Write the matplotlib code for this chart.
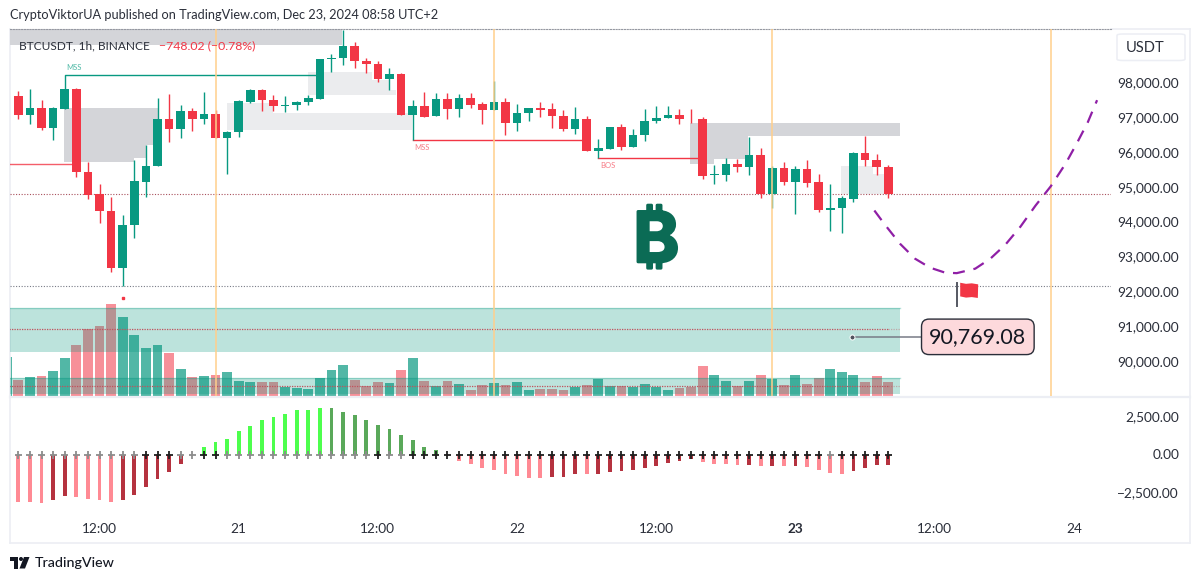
import numpy as np
import matplotlib
matplotlib.use('Agg')
import matplotlib.pyplot as plt
import matplotlib.patheffects as pe
from matplotlib.patches import Rectangle, FancyBboxPatch, Polygon
from matplotlib.lines import Line2D

plt.rcParams['font.family'] = ['Lato', 'Noto Sans', 'DejaVu Sans']

# hourly candles, 20 Dec 05:00 to 23 Dec 08:00
opens = [97626, 97079, 97301, 96725, 97260, 97827, 95447, 94805, 94336, 92696, 93922, 95159, 95611, 96984, 96696, 97203,
         96973, 97116, 96426, 96590, 97453, 97799, 97519, 97338, 97375, 97462, 97548, 98682, 98711, 99056, 98642, 98555,
         98106, 98259, 97099, 97338, 97050, 97531, 97260, 97577, 97396, 97232, 97445, 96857, 97137, 97280, 97252, 97059,
         96696, 96984, 96043, 96121, 96734, 96178, 96503, 96906, 97001, 97088, 96984, 96973, 95361, 95361, 95689, 95582,
         95948, 94826, 95562, 95171, 95534, 95159, 94354, 94411, 94682, 96006, 95804, 95591]
highs = [97770, 97827, 97511, 97309, 97827, 97856, 95735, 95113, 94719, 94230, 95784, 96216, 97588, 97692, 97367, 97301,
         97750, 97223, 96619, 97511, 97827, 97819, 97663, 97617, 97482, 97655, 98691, 98835, 99525, 99189, 98720, 98642,
         98423, 98279, 97511, 97750, 97721, 97721, 97692, 97721, 97445, 98049, 97588, 97396, 97301, 97445, 97416, 97232,
         97309, 97070, 96408, 96742, 96840, 96676, 97252, 97338, 97338, 97272, 97252, 97030, 95640, 95862, 95833, 96446,
         96138, 95611, 95726, 95620, 95804, 95401, 95102, 94768, 96023, 96495, 95957, 95640]
lows = [96964, 96829, 96656, 96360, 97260, 95303, 94682, 94000, 92569, 92186, 93559, 94728, 95611, 96311, 96426, 96619,
        96829, 96426, 95401, 96455, 97424, 97203, 97203, 97165, 97223, 97367, 97548, 98325, 98518, 98423, 98296, 98037,
        97799, 97099, 96380, 97042, 97050, 96964, 97042, 97289, 96829, 97232, 96524, 96639, 96906, 97042, 96714, 96619,
        96552, 96043, 95850, 96121, 96072, 96178, 96339, 96857, 96993, 96840, 96857, 95257, 95113, 95188, 95447, 95352,
        94710, 94411, 95064, 94250, 95016, 94316, 93749, 93692, 94584, 95620, 95352, 94710]
closes = [97079, 97301, 96714, 97280, 97819, 95447, 94797, 94325, 92696, 93933, 95180, 95620, 96984, 96696, 97203, 96973,
          97116, 96426, 96590, 97482, 97799, 97511, 97338, 97387, 97473, 97588, 98691, 98720, 99056, 98633, 98547, 98106,
          98259, 97099, 97338, 97042, 97531, 97260, 97577, 97375, 97232, 97445, 96857, 97145, 97280, 97243, 97050, 96696,
          96984, 96043, 96138, 96734, 96178, 96512, 96926, 97013, 97088, 96973, 96964, 95332, 95390, 95689, 95582, 95948,
          94826, 95562, 95171, 95534, 95142, 94345, 94423, 94690, 96006, 95793, 95582, 94814]

# volume, first value is the bar cut off at the left edge
volume = [39, 16.3, 19, 20, 24.7, 38, 50.7, 66.7, 69.7, 92, 78.7, 60.7, 47.7, 51.3, 42.7, 26.7, 19, 20, 21, 23.7, 15.3,
          13.7, 14.3, 14.3, 8.7, 8.3, 7.3, 18, 26.3, 31, 15.7, 10.3, 14.3, 13.3, 26.3, 37.7, 15, 10.3, 15, 12.3, 6.3,
          11.3, 13.3, 11.3, 14.3, 6.3, 7.3, 7.3, 6.3, 9.3, 11.3, 17, 9.7, 9.7, 8.7, 12.3, 8.7, 6.3, 7.7, 8.7, 30.3,
          21.3, 15, 9.7, 15, 20.7, 17.3, 11.3, 20.7, 12.3, 18, 27.3, 24.3, 21.3, 14.3, 19.7, 14.3]

# squeeze momentum histogram
momentum = [-3115, -3115, -3180, -2983, -2676, -2742, -2873, -2939, -3115, -2983, -2610, -2105, -1557, -1119, -570, 30,
            548, 855, 1053, 1557, 1908, 2303, 2478, 2720, 2983, 2983, 3093, 3093, 2851, 2610, 2303, 1974, 1733, 1294,
            987, 548, 307, 0, -373, -614, -833, -1009, -1228, -1382, -1492, -1492, -1448, -1448, -1228, -1228, -1228,
            -1119, -1053, -987, -877, -746, -548, -373, -263, -439, -570, -570, -636, -636, -746, -746, -746, -746,
            -812, -987, -1185, -1228, -1053, -877, -680, -680]
mom_shade = ['l', 'l', 'l', 'd', 'd', 'l', 'l', 'l', 'l', 'd', 'd', 'd', 'd', 'd', 'd', 'L', 'L', 'L', 'L', 'L', 'L',
             'L', 'L', 'L', 'L', 'L', 'L', 'D', 'D', 'D', 'D', 'D', 'D', 'D', 'D', 'D', 'D', 'D', 'l', 'l', 'l', 'l',
             'l', 'l', 'l', 'l', 'd', 'd', 'd', 'l', 'd', 'd', 'd', 'd', 'd', 'd', 'd', 'd', 'd', 'l', 'l', 'l', 'l',
             'd', 'l', 'd', 'l', 'd', 'l', 'l', 'l', 'l', 'd', 'd', 'd', 'd']
squeeze_off = [0, 1, 2, 3, 4, 5, 6, 7, 8, 9, 10, 14, 15, 18, 19, 20, 21, 22, 23, 24, 25, 26, 27, 28, 29, 30, 32, 33, 70]

# forecast path drawn on the chart
path_t = [73.8, 74.7, 76, 77.3, 78.6, 79.9, 80.9, 82.5, 83.8, 85.1, 86.4, 87.7, 89, 90.3, 91.3, 92.2, 93]
path_p = [94345, 93942, 93395, 92963, 92704, 92561, 92547, 92676, 92963, 93366, 93884, 94489, 95036, 95698, 96302,
          96878, 97511]

# zones as start, end, low, high
dark_zones = [(-0.8, 27.9, 99094, 99560), (3.9, 12, 96216, 97280), (3.9, 11, 95841, 96216), (3.9, 10, 95735, 95841),
              (57.9, 76, 96475, 96857), (57.9, 62.9, 95833, 96475), (57.9, 60, 95669, 95833)]
light_zones = [(18, 33.9, 96647, 97145), (18, 22, 97145, 97424), (25, 30.5, 97646, 98325), (30.5, 32, 97646, 98086),
               (32, 32.6, 97646, 97799), (70.9, 73.7, 94826, 95620), (73.7, 74.7, 94826, 95381)]
teal_bands = [(89070, 89530, 89317), (90287, 91545, 90935)]
session_lines = [17, 41, 65, 89]

price_ticks = [90000, 91000, 92000, 93000, 94000, 95000, 96000, 97000, 98000]
mom_ticks = [-2500, 0, 2500]
time_ticks = [7, 19, 31, 43, 55, 67, 79, 91]
time_labels = ['12:00', '21', '12:00', '22', '12:00', '23', '12:00', '24']

GREEN = '#089981'
RED = '#f23645'
TEXT = '#2a2e39'
BORDER = '#eceef4'
W, H = 1200, 581


def pane(x0, y0, x1, y1):
    return fig.add_axes([x0 / W, 1 - y1 / H, (x1 - x0) / W, (y1 - y0) / H])


def fx(x):
    return x / W


def fy(y):
    return 1 - y / H


fig = plt.figure(figsize=(12, 5.81), dpi=100)
ax_vol = pane(10, 29, 1111, 396)
ax = pane(10, 29, 1111, 396)
ax_mom = pane(10, 397, 1111, 515)
ax.set_zorder(2)
ax.patch.set_visible(False)

t = np.arange(len(opens))
xlim = (-0.716, 94.2)

# volume goes behind everything else
vol_t = np.arange(len(volume)) - 1
vol_col = [GREEN] + [GREEN if c >= o else RED for o, c in zip(opens, closes)]
vol_alpha = [0.7 if c == GREEN else 0.55 for c in vol_col]
ax_vol.bar(vol_t, volume, width=0.86, color=[matplotlib.colors.to_rgba(c, a) for c, a in zip(vol_col, vol_alpha)])
ax_vol.set_xlim(xlim)
ax_vol.set_ylim(0, 366.7)
ax_vol.axis('off')

for x0, x1, lo, hi in dark_zones:
    ax.add_patch(Rectangle((x0, lo), x1 - x0, hi - lo, color='#d4d5d9', lw=0, zorder=1))
for x0, x1, lo, hi in light_zones:
    ax.add_patch(Rectangle((x0, lo), x1 - x0, hi - lo, color='#ebecee', lw=0, zorder=1))
for lo, hi, mid in teal_bands:
    ax.add_patch(Rectangle((-0.8, lo), 76.8, hi - lo, color=GREEN, alpha=0.27, lw=0, zorder=1.5))
    ax.plot([-0.8, 76], [hi, hi], color=GREEN, alpha=0.3, lw=1, zorder=1.5)
    ax.plot([-0.8, 75], [mid, mid], color='#c2505c', lw=0.9, ls=(0, (1, 1)), zorder=1.6)
    ax.plot([75, 76], [mid, mid], color='#c2505c', alpha=0.4, lw=0.9, ls=(0, (1, 1)), zorder=1.6)

# candles
col = [GREEN if c >= o else RED for o, c in zip(opens, closes)]
ax.vlines(t, lows, highs, colors=col, lw=1, zorder=3)
body_lo = np.minimum(opens, closes)
body_hi = np.maximum(opens, closes)
ax.bar(t, body_hi - body_lo, bottom=body_lo, width=0.74, color=col, zorder=3.1)

# structure lines
ax.plot([4, 4, 26], [97819, 98230, 98230], color=GREEN, lw=1, zorder=2.5)
ax.plot([-0.8, 5], [95669, 95669], color=RED, alpha=0.8, lw=1, zorder=2.5)
ax.plot([34, 49], [96380, 96380], color=RED, lw=1, zorder=2.5)
ax.plot([50, 59], [95850, 95850], color=RED, lw=1, zorder=2.5)
ax.text(4.8, 98460, 'MSS', color='#4fb9a6', fontsize=5.5, ha='center', va='center')
ax.text(34.8, 96158, 'MSS', color='#f77c87', fontsize=5.5, ha='center', va='center')
ax.text(50.8, 95640, 'BOS', color='#f77c87', fontsize=5.5, ha='center', va='center')

# price and level lines
ax.axhline(closes[-1], color='#a9505c', lw=0.8, ls=(0, (1, 1.5)), zorder=2)
ax.axhline(lows[9], color='#787b86', lw=0.8, ls=(0, (1, 1.5)), zorder=2)
ax.plot([9], [91832], marker='s', ms=2, color=RED, zorder=3)

for s in session_lines:
    ax.axvline(s, color='#ffcf8c', alpha=0.85, lw=1.3, zorder=4)

ax.plot(path_t, path_p, color='#8f1fa6', lw=1.6, ls=(0, (5.4, 4)), zorder=4)

# bitcoin sign, thickened a bit with a stroke
ax.text(55, 93400, '\u20bf', color='#0b6b55', fontsize=50, fontweight='bold',
        family=['Inter', 'Noto Sans', 'Roboto', 'Open Sans', 'Lato'], ha='center', va='center', zorder=3,
        path_effects=[pe.withStroke(linewidth=2, foreground='#0b6b55')])

# flag
ax.plot([80.95, 80.95], [91602, 92253], color='#555862', lw=1.4, zorder=4)
ax.add_patch(Polygon([(81.2, 92272), (81.7, 92240), (82.2, 92255), (82.75, 92225), (82.72, 91835), (82.2, 91860),
                      (81.7, 91845), (81.2, 91880)], closed=True, color=RED, lw=0, zorder=4))

# callout with the target price
ax.plot([71.9, 79.5], [90719, 90719], color='#787b86', lw=1.1, zorder=4)
ax.plot([71.9], [90719], marker='o', ms=3.6, mfc='#50535e', mec='white', mew=0.7, zorder=5)
ax.annotate('90,769.08', xy=(82.72, 90719), ha='center', va='center', fontsize=15.5, color='#131722', zorder=6,
            bbox=dict(boxstyle='round,pad=0.36,rounding_size=0.35', fc='#fdd9dc', ec='#2a2e39', lw=1))

ax.set_xlim(xlim)
ax.set_ylim(89021, 99554)
ax.set_xticks([])
ax.yaxis.tick_right()
ax.set_yticks(price_ticks)
ax.set_yticklabels([f'{p:,.2f}' for p in price_ticks])
ax.tick_params(axis='y', length=0, pad=49, labelsize=9.8, labelcolor=TEXT)
for lab in ax.get_yticklabels():
    lab.set_ha('right')
    lab.set_va('center')
for name in ['left', 'right', 'bottom']:
    ax.spines[name].set_visible(False)
ax.spines['top'].set_color('#9598a1')
ax.spines['top'].set_linewidth(0.8)
ax.spines['top'].set_linestyle((0, (1, 1.5)))

# lower pane
shades = {'l': '#ff8a94', 'd': '#b5323f', 'L': '#4dff4d', 'D': '#5aa95a'}
ax_mom.bar(t, momentum, width=0.33, color=[shades[s] for s in mom_shade])
squeeze_col = ['#8c8c8c' if i in squeeze_off else '#1f1f1f' for i in t]
ax_mom.scatter(t, np.zeros(len(t)), marker='+', s=26, c=squeeze_col, linewidths=1.3, zorder=3)
ax_mom.set_xlim(xlim)
ax_mom.set_ylim(-3947, 3816)
ax_mom.yaxis.tick_right()
ax_mom.set_yticks(mom_ticks)
ax_mom.set_yticklabels(['\u22122,500.00', '0.00', '2,500.00'])
ax_mom.tick_params(axis='y', length=0, pad=49, labelsize=9.8, labelcolor=TEXT)
for lab in ax_mom.get_yticklabels():
    lab.set_ha('right')
    lab.set_va('center')
ax_mom.set_xticks(time_ticks)
ax_mom.set_xticklabels(time_labels)
ax_mom.tick_params(axis='x', length=0, pad=6, labelsize=9.8, labelcolor=TEXT)
for lab in ax_mom.get_xticklabels():
    if lab.get_text() == '23':
        lab.set_fontweight('bold')
for s in ax_mom.spines.values():
    s.set_visible(False)

# pane frame
for (x0, y0, x1, y1, lw) in [(10, 29, 10, 543, 1.2), (1190, 29, 1190, 543, 1.2), (1111, 29, 1190, 29, 1.2),
                             (10, 396.5, 1190, 396.5, 1.6), (10, 543, 1190, 543, 1.2)]:
    fig.add_artist(Line2D([fx(x0), fx(x1)], [fy(y0), fy(y1)], color=BORDER, lw=lw))

# header texts
fig.text(fx(10), fy(15), 'CryptoViktorUA published on TradingView.com, Dec 23, 2024 08:58 UTC+2', fontsize=9.2,
         color=TEXT, va='center')
fig.text(fx(19), fy(45.5), 'BTCUSDT, 1h, BINANCE', fontsize=8.6, color=TEXT, va='center', zorder=5)
fig.text(fx(159), fy(45.5), '\u2212748.02 (\u22120.78%)', fontsize=8.8, color=RED, va='center', zorder=5)

# currency button
fig.add_artist(FancyBboxPatch((fx(1117), fy(60.5)), fx(68), 26.5 / H, boxstyle='round,pad=0,rounding_size=0.005',
                              fc='white', ec=BORDER, lw=1.1, transform=fig.transFigure, mutation_aspect=H / W))
fig.text(fx(1126), fy(47.5), 'USDT', fontsize=10.5, color=TEXT, va='center')

# TradingView mark at the bottom
logo_col = '#131722'
fig.add_artist(Polygon([(fx(10), fy(557)), (fx(18), fy(557)), (fx(18), fy(568.5)), (fx(14), fy(568.5)),
                        (fx(14), fy(561)), (fx(10), fy(561))], closed=True, fc=logo_col, ec='none',
                       transform=fig.transFigure))
fig.add_artist(Polygon([(fx(24), fy(557)), (fx(29.5), fy(557)), (fx(25), fy(568.5)), (fx(19.5), fy(568.5))],
                       closed=True, fc=logo_col, ec='none', transform=fig.transFigure))
fig.add_artist(matplotlib.patches.Ellipse((fx(21), fy(559)), 4 / W, 4 / H, fc=logo_col, ec='none',
                                          transform=fig.transFigure))
fig.text(fx(35), fy(563), 'TradingView', fontsize=10.3, color=logo_col, va='center', fontweight='medium')

fig.savefig('out.png', dpi=100)
